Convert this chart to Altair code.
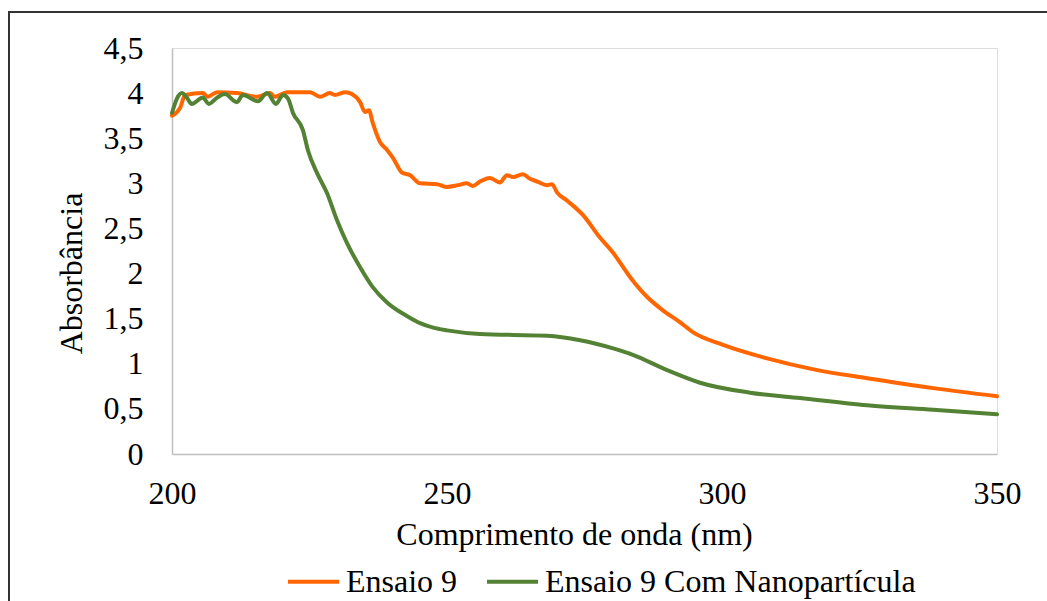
import altair as alt
import pandas as pd

# ---- data ----
series = ["Ensaio 9", "Ensaio 9 Com Nanopartícula"]
colors = ["#FF6600", "#548235"]

wl_ensaio9 = [200.0, 201.5, 202.4, 205.6, 206.5, 208.2, 211.8, 215.5, 217.8, 218.7,
              220.9, 225.1, 226.9, 228.7, 229.6, 231.5, 232.7, 234.2, 235.1, 235.8,
              236.5, 237.8, 239.1, 240.2, 241.8, 243.3, 245.1, 248.2, 250.0, 252.0,
              253.6, 254.7, 256.0, 257.8, 259.6, 260.9, 262.0, 263.8, 265.1, 266.4,
              268.2, 269.1, 270.0, 271.8, 274.7, 277.8, 280.2, 283.3, 286.4, 289.3,
              292.4, 294.7, 300.2, 308.2, 317.3, 326.4, 338.4, 350.0]
abs_ensaio9 = [3.75, 3.84, 3.98, 4.00, 3.96, 4.01, 4.00, 3.96, 4.00, 3.96,
               4.01, 4.01, 3.96, 4.00, 3.98, 4.01, 3.99, 3.90, 3.79, 3.81,
               3.67, 3.46, 3.37, 3.28, 3.12, 3.09, 3.00, 2.99, 2.96, 2.98,
               3.00, 2.97, 3.02, 3.06, 3.01, 3.09, 3.07, 3.10, 3.05, 3.02,
               2.98, 2.99, 2.90, 2.81, 2.65, 2.40, 2.23, 1.96, 1.74, 1.59,
               1.46, 1.35, 1.21, 1.06, 0.93, 0.84, 0.73, 0.64]

wl_nano = [200.0, 200.9, 201.8, 202.7, 203.6, 205.6, 206.7, 208.2, 209.6, 211.8,
           212.9, 215.6, 217.3, 218.9, 220.2, 221.1, 222.0, 223.8, 224.7, 226.4,
           228.2, 230.0, 231.8, 234.2, 236.5, 239.1, 242.7, 245.1, 247.5, 250.0,
           256.0, 268.2, 274.2, 280.2, 283.8, 290.0, 296.0, 305.1, 314.2, 326.4,
           338.4, 350.0]
abs_nano = [3.78, 3.94, 4.00, 3.95, 3.88, 3.95, 3.88, 3.95, 3.99, 3.90,
            3.98, 3.91, 4.00, 3.88, 3.98, 3.94, 3.78, 3.59, 3.37, 3.11,
            2.89, 2.59, 2.34, 2.07, 1.85, 1.68, 1.53, 1.45, 1.40, 1.37,
            1.33, 1.31, 1.26, 1.17, 1.10, 0.93, 0.79, 0.68, 0.62, 0.54,
            0.49, 0.44]

x_ticks = [200, 250, 300, 350]
y_ticks = [0, 0.5, 1, 1.5, 2, 2.5, 3, 3.5, 4, 4.5]

df = pd.concat([
    pd.DataFrame({"nm": wl_ensaio9, "A": abs_ensaio9, "serie": series[0]}),
    pd.DataFrame({"nm": wl_nano, "A": abs_nano, "serie": series[1]}),
], ignore_index=True)

FONT = "Liberation Serif"

common_axis = dict(
    domainColor="#BFBFBF", domainWidth=1.5, ticks=False, tickSize=0, grid=False,
    labelFont=FONT, labelFontSize=32, labelColor="black",
    titleFont=FONT, titleFontSize=32, titleFontWeight="normal", titleColor="black",
)

lines = alt.Chart(df).mark_line(
    interpolate="monotone", strokeWidth=4, strokeCap="round", strokeJoin="round"
).encode(
    x=alt.X("nm:Q",
            scale=alt.Scale(domain=[200, 350], nice=False, zero=False),
            axis=alt.Axis(values=x_ticks, title="Comprimento de onda (nm)",
                          labelBaseline="alphabetic", labelPadding=49,
                          labelFlush=False, labelAlign="center",
                          titleX=402, titleY=90, titleAlign="center",
                          titleBaseline="alphabetic", **common_axis)),
    y=alt.Y("A:Q",
            scale=alt.Scale(domain=[0, 4.5], nice=False),
            axis=alt.Axis(values=y_ticks, title="Absorbância",
                          labelExpr="replace(toString(datum.value), '.', ',')",
                          labelAlign="right", labelBaseline="middle", labelPadding=29,
                          labelFlush=False,
                          titleAngle=270, titleX=-91, titleY=225,
                          titleAlign="center", titleBaseline="alphabetic",
                          **common_axis)),
    color=alt.Color("serie:N",
                    scale=alt.Scale(domain=series, range=colors),
                    legend=alt.Legend(title=None, orient="none", legendX=114, legendY=506,
                                      direction="horizontal", symbolType="stroke",
                                      symbolSize=2601, symbolStrokeWidth=4,
                                      labelFont=FONT, labelFontSize=32, labelColor="black",
                                      labelLimit=1000, labelOffset=5, columnPadding=21,
                                      padding=0)),
)

frame_df = pd.DataFrame({"k": [0]})
left_border = alt.Chart(frame_df).mark_rule(color="#333333", strokeWidth=2).encode(
    x=alt.value(-163), x2=alt.value(-163), y=alt.value(-36), y2=alt.value(560))
top_border = alt.Chart(frame_df).mark_rule(color="#333333", strokeWidth=2).encode(
    x=alt.value(-164), x2=alt.value(880), y=alt.value(-36), y2=alt.value(-36))

chart = alt.layer(lines, left_border, top_border).properties(
    width=825, height=406,
    autosize=alt.AutoSizeParams(type="none"),
    padding={"left": 172, "top": 48, "right": 50, "bottom": 147},
    background="white",
).configure_view(stroke=None).configure_axis(
    **common_axis
).configure_legend(
    labelFont=FONT
).configure_text(font=FONT).configure(
    font=FONT
)

chart.save("out.html", embed_options={"renderer": "svg", "actions": False})
